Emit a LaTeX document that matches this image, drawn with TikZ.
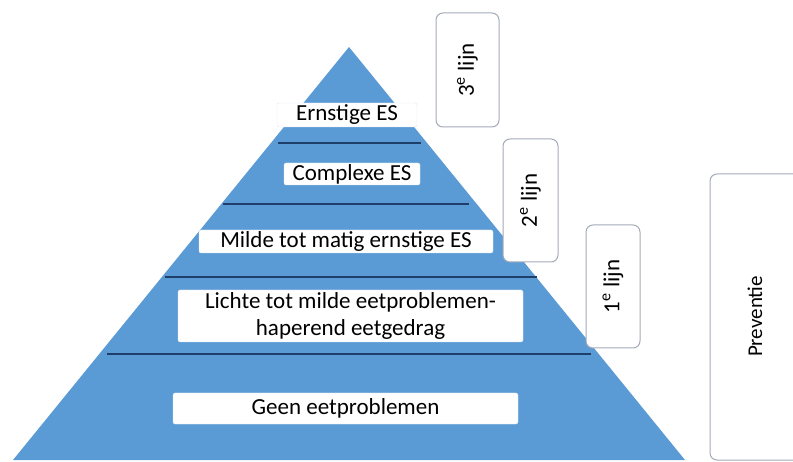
\documentclass[tikz,border=0pt]{standalone}
\usepackage{fontspec}
\setmainfont{Carlito}
\usetikzlibrary{positioning}
\definecolor{pyramidblue}{HTML}{5B9BD5}
\definecolor{layerrule}{HTML}{1F3F6B}
\definecolor{boxgray}{HTML}{A3ABB7}

\begin{document}
\begin{tikzpicture}[x=1pt, y=-1pt,
    levelbox/.style={draw=white!75!pyramidblue, fill=white, inner sep=0pt, rounded corners=2pt, align=center, font=\fontsize{23}{27}\selectfont},
    lijnbox/.style={draw=boxgray, line width=1pt, fill=white, rounded corners=7pt, inner sep=0pt, rotate=90, font=\fontsize{23}{26}\selectfont},
    rule/.style={draw=layerrule, line width=1.5pt}]

    \clip (0, 0) rectangle (793, 462);

    % pyramid
    \fill[pyramidblue] (349, 47) -- (685, 460) -- (13, 460) -- cycle;

    \draw[rule] (278, 143) -- (421, 143);
    \draw[rule] (223, 204) -- (469, 204);
    \draw[rule] (165, 277) -- (537, 277);
    \draw[rule] (107, 354) -- (591, 354);

    % levels
    \node[levelbox, minimum width=140pt, minimum height=24pt] (ernstig) at (347, 115) {Ernstige ES};
    \node[levelbox, minimum width=136pt, minimum height=22pt] (complex) at (352, 174) {Complexe ES};
    \node[levelbox, minimum width=294pt, minimum height=23pt] (milde) at (346, 241.5) {Milde tot matig ernstige ES};
    \node[levelbox, minimum width=345pt, minimum height=52pt] (lichte) at (350.5, 316) {Lichte tot milde eetproblemen-\\haperend eetgedrag};
    \node[levelbox, minimum width=345pt, minimum height=31pt] (geen) at (345.5, 408.5) {Geen eetproblemen};

    % care lines
    \node[lijnbox, minimum width=114pt, minimum height=63pt] (lijn3) at (467.5, 70) {3\textsuperscript{e} lijn};
    \node[lijnbox, minimum width=123pt, minimum height=55pt] (lijn2) at (530.5, 200.5) {2\textsuperscript{e} lijn};
    \node[lijnbox, minimum width=123pt, minimum height=54pt] (lijn1) at (613, 286.5) {1\textsuperscript{e} lijn};
    \node[lijnbox, rotate=-90, minimum width=100pt, minimum height=286pt] (preventie) at (760, 317) {};
    \node[rotate=90, font=\fontsize{21}{24}\selectfont] (preventietekst) at (755, 316.5) {Preventie};

\end{tikzpicture}
\end{document}
